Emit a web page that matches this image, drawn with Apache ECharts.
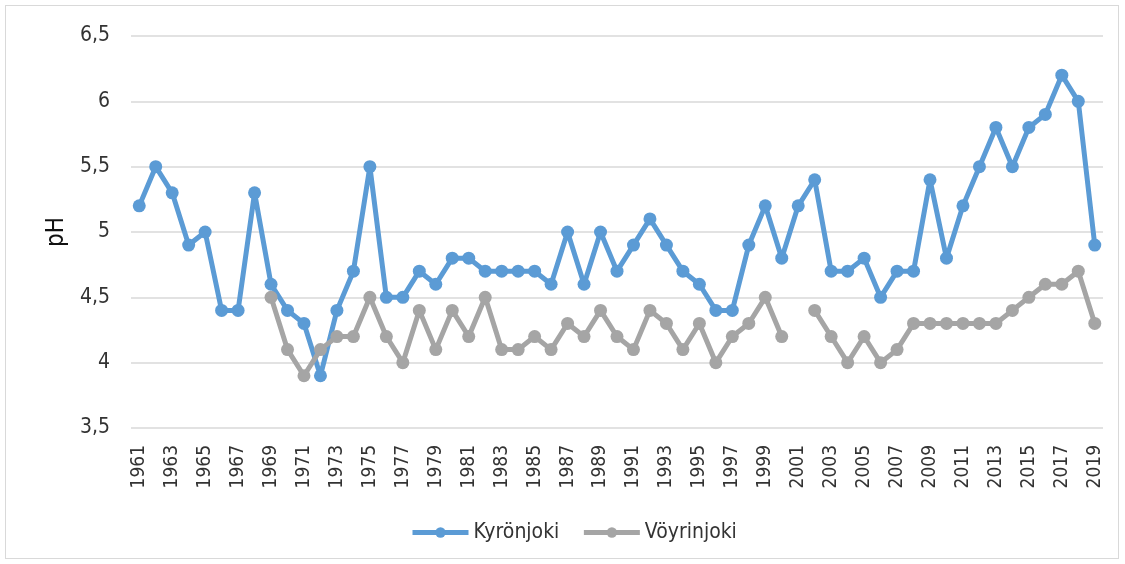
<!DOCTYPE html>
<html>
<head>
<meta charset="utf-8">
<script src="https://cdn.jsdelivr.net/npm/echarts@6/dist/echarts.min.js"></script>
<style>
  html, body { margin: 0; padding: 0; background: #fff; }
  #chart {
    position: absolute; left: 5px; top: 5px;
    width: 1114px; height: 554px;
    border: 1px solid #d9d9d9; box-sizing: border-box;
  }
</style>
</head>
<body>
<div id="chart"></div>
<script>
// vuodet 1961-2019
const years = [];
for (let y = 1961; y <= 2019; y++) years.push(String(y));

const kyronjoki = [
  5.2, 5.5, 5.3, 4.9, 5.0, 4.4, 4.4, 5.3, 4.6, 4.4,
  4.3, 3.9, 4.4, 4.7, 5.5, 4.5, 4.5, 4.7, 4.6, 4.8,
  4.8, 4.7, 4.7, 4.7, 4.7, 4.6, 5.0, 4.6, 5.0, 4.7,
  4.9, 5.1, 4.9, 4.7, 4.6, 4.4, 4.4, 4.9, 5.2, 4.8,
  5.2, 5.4, 4.7, 4.7, 4.8, 4.5, 4.7, 4.7, 5.4, 4.8,
  5.2, 5.5, 5.8, 5.5, 5.8, 5.9, 6.2, 6.0, 4.9
];

// Vöyrinjoki alkaa 1969, 2001 puuttuu
const voyrinjoki = [
  null, null, null, null, null, null, null, null, 4.5, 4.1,
  3.9, 4.1, 4.2, 4.2, 4.5, 4.2, 4.0, 4.4, 4.1, 4.4,
  4.2, 4.5, 4.1, 4.1, 4.2, 4.1, 4.3, 4.2, 4.4, 4.2,
  4.1, 4.4, 4.3, 4.1, 4.3, 4.0, 4.2, 4.3, 4.5, 4.2,
  null, 4.4, 4.2, 4.0, 4.2, 4.0, 4.1, 4.3, 4.3, 4.3,
  4.3, 4.3, 4.3, 4.4, 4.5, 4.6, 4.6, 4.7, 4.3
];

const yTicks = { min: 3.5, max: 6.5, interval: 0.5 };

const fontFamily = "'Liberation Sans Narrow', 'DejaVu Sans Condensed', 'Liberation Sans', sans-serif";
const textColor = "#333";

const chart = echarts.init(document.getElementById("chart"));

const lineSeries = (name, data, color) => ({
  name,
  type: "line",
  data,
  connectNulls: false,
  symbol: "circle",
  symbolSize: 13,
  showAllSymbol: true,
  lineStyle: { width: 5, color },
  itemStyle: { color },
  emphasis: { disabled: true }
});

chart.setOption({
  animation: false,
  textStyle: { fontFamily },
  grid: { left: 125, right: 15, top: 30, bottom: 130 },
  xAxis: {
    type: "category",
    data: years,
    boundaryGap: true,
    axisLine: { show: false },
    axisTick: { show: false },
    axisLabel: {
      interval: 1,
      rotate: 90,
      color: textColor,
      fontSize: 19,
      margin: 17,
      fontFamily
    }
  },
  yAxis: {
    type: "value",
    min: yTicks.min,
    max: yTicks.max,
    interval: yTicks.interval,
    name: "pH",
    nameLocation: "middle",
    nameGap: 58,
    nameRotate: 90,
    nameTextStyle: { color: "#111", fontSize: 24, fontFamily },
    axisLine: { show: false },
    axisTick: { show: false },
    axisLabel: {
      color: textColor,
      fontSize: 21,
      margin: 21,
      formatter: (v) => String(v).replace(".", ",")
    },
    splitLine: { lineStyle: { color: "#d9d9d9", width: 1.5 } }
  },
  legend: {
    bottom: 10,
    left: 399,
    itemWidth: 56,
    itemHeight: 13,
    itemGap: 22,
    lineStyle: { width: 5 },
    textStyle: { color: textColor, fontSize: 21, fontFamily },
    data: ["Kyrönjoki", "Vöyrinjoki"]
  },
  series: [
    lineSeries("Kyrönjoki", kyronjoki, "#5b9bd5"),
    lineSeries("Vöyrinjoki", voyrinjoki, "#a5a5a5")
  ]
});
</script>
</body>
</html>
